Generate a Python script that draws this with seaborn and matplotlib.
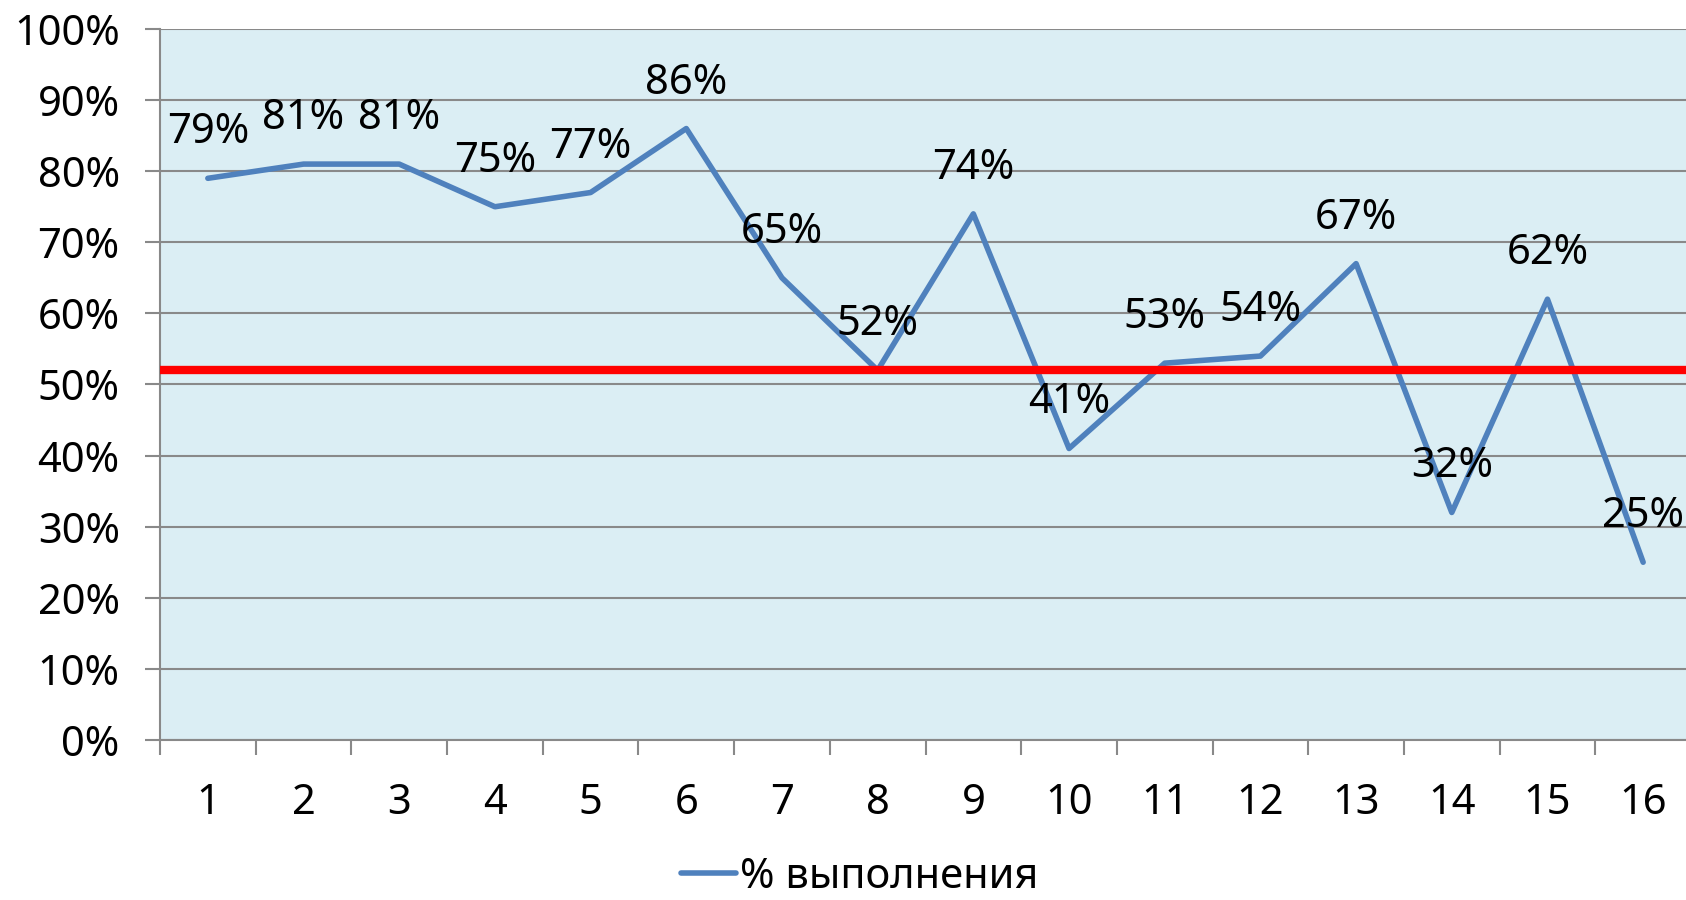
import matplotlib
matplotlib.use("Agg")
import matplotlib.pyplot as plt
from matplotlib.ticker import FixedLocator, FuncFormatter
import seaborn as sns
import pandas as pd

# Chart data
categories = [str(i) for i in range(1, 17)]
values = [79, 81, 81, 75, 77, 86, 65, 52, 74, 41, 53, 54, 67, 32, 62, 25]
target = 52
series_name = "% выполнения"

# Graphical parameters
line_color = "#4F81BD"
target_color = "#FF0000"
grid_color = "#898989"
bg_color = "#DBEEF4"
fontsize = 30

sns.set_style("white")
plt.rcParams["font.family"] = ["Noto Sans", "DejaVu Sans"]
plt.rcParams["text.color"] = "black"
plt.rcParams["xtick.labelcolor"] = "black"
plt.rcParams["ytick.labelcolor"] = "black"

df = pd.DataFrame({"pos": range(len(categories)), "value": values})

fig = plt.figure(figsize=(16.86, 9), dpi=100)
ax = fig.add_axes([160 / 1686, 160 / 900, 1531 / 1686, 711 / 900])
ax.set_facecolor(bg_color)

sns.lineplot(data=df, x="pos", y="value", color=line_color, lw=4,
             label=series_name, ax=ax, zorder=3)
ax.axhline(target, color=target_color, lw=6, zorder=4)

for i, v in enumerate(values):
    ax.annotate(f"{v}%", (i, v), xytext=(0, 46), textcoords="offset pixels",
                ha="center", va="center", fontsize=fontsize, color="black", zorder=5)

ax.set_xlim(-0.5, len(categories) - 0.5)
ax.set_ylim(0, 100)
ax.set_xticks(range(len(categories)))
ax.set_xticklabels(categories)
ax.xaxis.set_minor_locator(FixedLocator([i - 0.5 for i in range(len(categories) + 1)]))
ax.set_yticks(range(0, 101, 10))
ax.yaxis.set_major_formatter(FuncFormatter(lambda v, p: f"{int(v)}%"))
ax.tick_params(axis="x", which="major", length=0, pad=30, labelsize=fontsize)
ax.tick_params(axis="x", which="minor", length=11, width=1.5, color=grid_color,
               direction="out", bottom=True)
ax.tick_params(axis="y", length=11, width=1.5, color=grid_color, direction="out",
               left=True, pad=18, labelsize=fontsize)
ax.grid(axis="y", color=grid_color, lw=1.5, zorder=1)
ax.set_axisbelow(True)
for side in ["top", "right"]:
    ax.spines[side].set_visible(False)
for side in ["left", "bottom"]:
    ax.spines[side].set_color(grid_color)
    ax.spines[side].set_linewidth(1.5)
ax.set_xlabel("")
ax.set_ylabel("")

ax.legend(loc="center", bbox_to_anchor=(0.5 * 1686 / 1531 - 160 / 1531 + 0.011, -0.192),
          frameon=False, fontsize=fontsize, handlelength=1.3, handletextpad=0.1)

plt.savefig("out.png", dpi=100)
